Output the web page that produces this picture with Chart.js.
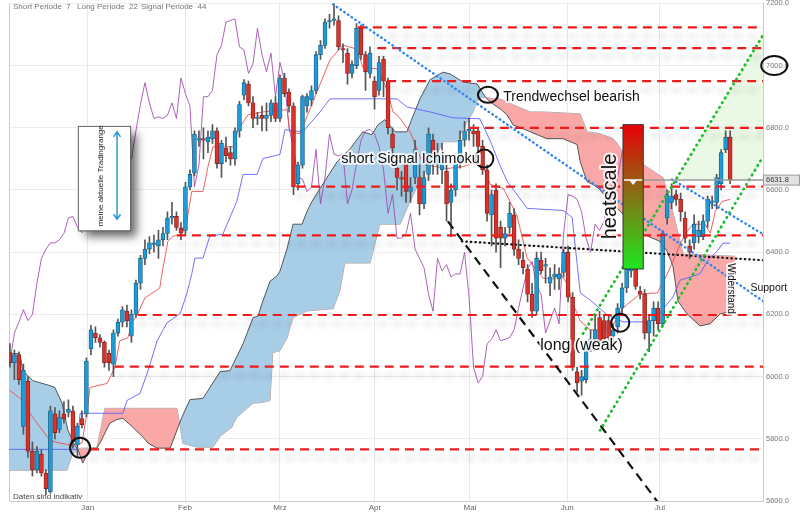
<!DOCTYPE html>
<html>
<head>
<meta charset="utf-8">
<script src="https://cdn.jsdelivr.net/npm/chart.js@4.4.1/dist/chart.umd.min.js"></script>
<style>
  html, body { margin: 0; padding: 0; background: #fff; }
  #wrap { width: 800px; height: 515px; }
</style>
</head>
<body>
<div id="wrap"><canvas id="chart" width="800" height="515"></canvas></div>
<script>
// Ichimoku settings shown in the header
const SHORT_PERIOD = 7;
const LONG_PERIOD = 22;
const SIGNAL_PERIOD = 44;

const monthLabels = ['Jan', 'Feb', 'Mrz', 'Apr', 'Mai', 'Jun', 'Jul'];
const monthPos = [17.3, 38.9, 60, 81.1, 102.2, 123.8, 144.4];

// daily candles, index 0 = mid December
const opens = [
  6077, 6045, 6070, 5840, 5985, 5760, 5700, 5750, 5690, 5630,
  5880, 5830, 5880, 5885, 5890, 5780, 5865, 5880, 6090, 6140,
  6125, 6110, 6075, 6040, 6140, 6175, 6210, 6130, 6200, 6300,
  6380, 6410, 6425, 6420, 6440, 6460, 6510, 6515, 6478, 6470,
  6610, 6655, 6760, 6765, 6755, 6765, 6790, 6685, 6735, 6720,
  6700, 6790, 6905, 6940, 6880, 6830, 6840, 6830, 6840, 6880,
  6830, 6960, 6915, 6870, 6620, 6680, 6870, 6890, 6920, 7035,
  7065, 7140, 7145, 7145, 7055, 7040, 6975, 7000, 7120, 7035,
  6975, 6950, 6920, 7020, 6950, 6780, 6670, 6640, 6690, 6595,
  6640, 6640, 6555, 6650, 6760, 6680, 6665, 6660, 6560, 6600,
  6685, 6760, 6790, 6790, 6790, 6740, 6665, 6520, 6600, 6480,
  6445, 6480, 6520, 6410, 6375, 6345, 6265, 6210, 6375, 6355,
  6300, 6320, 6315, 6335, 6400, 6255, 6015, 5985, 5990, 6100,
  6120, 6190, 6180, 6180, 6130, 6160, 6220, 6285, 6340, 6345,
  6275, 6265, 6140, 6180, 6220, 6170, 6510, 6560, 6585, 6570,
  6510, 6420, 6430, 6450, 6450, 6500, 6560, 6560, 6620, 6730,
  6770
];
const highs = [
  6106, 6085, 6080, 6040, 6000, 5790, 5775, 5765, 5700, 5905,
  5900, 5890, 5920, 5925, 5905, 5850, 5890, 6060, 6165, 6160,
  6135, 6115, 6085, 6150, 6185, 6225, 6230, 6215, 6310, 6390,
  6440, 6450, 6455, 6470, 6480, 6530, 6560, 6530, 6495, 6625,
  6665, 6790, 6790, 6800, 6790, 6810, 6800, 6760, 6770, 6740,
  6800, 6885, 6955, 6950, 6900, 6850, 6870, 6880, 6890, 6900,
  6970, 6975, 6925, 6880, 6690, 6905, 6910, 6935, 7045, 7080,
  7150, 7165, 7200, 7160, 7070, 7055, 7015, 7135, 7130, 7045,
  7060, 6965, 7030, 7030, 6960, 6800, 6690, 6660, 6700, 6640,
  6760, 6680, 6660, 6800, 6780, 6750, 6750, 6680, 6620, 6710,
  6790, 6820, 6830, 6810, 6800, 6760, 6680, 6600, 6620, 6500,
  6480, 6560, 6540, 6440, 6400, 6360, 6300, 6400, 6400, 6380,
  6350, 6360, 6350, 6410, 6420, 6270, 6030, 6020, 6110, 6150,
  6200, 6210, 6200, 6195, 6170, 6235, 6300, 6360, 6410, 6360,
  6290, 6280, 6200, 6240, 6240, 6470, 6600, 6620, 6600, 6590,
  6530, 6440, 6520, 6500, 6520, 6580, 6580, 6650, 6730, 6790,
  6790
];
const lows = [
  6030, 5990, 5975, 5815, 5740, 5680, 5690, 5680, 5620, 5625,
  5800, 5820, 5850, 5870, 5770, 5740, 5835, 5870, 6070, 6110,
  6095, 6030, 6020, 6000, 6130, 6160, 6160, 6110, 6190, 6280,
  6360, 6395, 6400, 6380, 6420, 6440, 6490, 6470, 6440, 6455,
  6600, 6645, 6740, 6700, 6720, 6750, 6670, 6640, 6690, 6680,
  6680, 6770, 6890, 6870, 6800, 6810, 6790, 6790, 6820, 6820,
  6820, 6900, 6850, 6585, 6600, 6670, 6850, 6870, 6910, 7020,
  7055, 7120, 7130, 7050, 7010, 6940, 6960, 6990, 7020, 6920,
  6960, 6860, 6905, 6900, 6780, 6700, 6600, 6580, 6560, 6560,
  6620, 6520, 6540, 6630, 6650, 6650, 6620, 6500, 6450, 6580,
  6670, 6740, 6760, 6740, 6720, 6650, 6500, 6420, 6400, 6350,
  6420, 6460, 6390, 6360, 6330, 6240, 6190, 6200, 6330, 6300,
  6260, 6280, 6280, 6320, 6240, 6020, 5950, 5940, 5980, 6080,
  6100, 6100, 6100, 6110, 6100, 6140, 6200, 6270, 6320, 6280,
  6250, 6120, 6080, 6130, 6150, 6160, 6490, 6540, 6550, 6500,
  6430, 6380, 6410, 6430, 6440, 6480, 6540, 6540, 6600, 6720,
  6620
];
const closes = [
  6045, 6070, 5990, 6020, 5760, 5700, 5760, 5690, 5640, 5890,
  5820, 5870, 5865, 5895, 5790, 5840, 5845, 6050, 6150, 6125,
  6110, 6045, 6045, 6140, 6175, 6215, 6180, 6200, 6300, 6380,
  6410, 6430, 6430, 6440, 6460, 6510, 6515, 6480, 6462, 6610,
  6650, 6780, 6765, 6760, 6770, 6790, 6685, 6750, 6710, 6700,
  6790, 6875, 6945, 6880, 6830, 6835, 6830, 6840, 6880, 6830,
  6960, 6910, 6870, 6610, 6680, 6900, 6900, 6920, 7035, 7065,
  7140, 7145, 7150, 7060, 7050, 6975, 7005, 7120, 7035, 6980,
  7040, 6900, 7010, 6950, 6800, 6735, 6640, 6635, 6595, 6610,
  6730, 6555, 6640, 6780, 6715, 6710, 6715, 6555, 6600, 6685,
  6760, 6790, 6795, 6780, 6740, 6665, 6525, 6585, 6445, 6445,
  6460, 6525, 6410, 6380, 6350, 6265, 6210, 6380, 6340, 6360,
  6320, 6330, 6330, 6400, 6255, 6030, 5980, 6000, 6105, 6120,
  6150, 6115, 6120, 6125, 6150, 6220, 6285, 6345, 6370, 6290,
  6265, 6140, 6180, 6220, 6170, 6460, 6585, 6580, 6570, 6530,
  6445, 6400, 6490, 6470, 6500, 6570, 6565, 6640, 6720, 6770,
  6631.8
];
const lastPrice = closes[closes.length - 1];

// Ichimoku lines: [candle index, value]
const tenkan = [
  [0, 5955], [2.9, 5923], [4.4, 5882], [8.9, 5795], [11.1, 5786], [13.8, 5779], [16, 5786],
  [17.1, 5882], [17.8, 5965], [21.6, 5978], [23.3, 6029], [24.4, 6115], [26.2, 6125],
  [27.3, 6179], [28.4, 6202], [30, 6253], [33.3, 6285], [34, 6349], [35.1, 6435], [36.2, 6451],
  [38.2, 6458], [39.3, 6499], [40.4, 6595], [42.9, 6595], [44, 6675], [45.1, 6739], [49.6, 6739],
  [50.7, 6794], [52.9, 6842], [56.2, 6851], [61.6, 6858], [62.2, 6787], [64.4, 6781],
  [66.7, 6861], [68.2, 6915], [71.1, 7018], [74, 7066], [77.1, 7053], [78.4, 6995], [81.6, 6989],
  [83.8, 6922], [85.1, 6851], [86, 6842], [88.9, 6787], [91.8, 6682], [97.1, 6669],
  [100.7, 6675], [104, 6691], [105.6, 6659], [106.7, 6618], [109.6, 6605], [111.1, 6563],
  [112.7, 6515], [114.9, 6381], [118.4, 6317], [120.7, 6314], [122.2, 6333], [123.8, 6298],
  [125.1, 6234], [126.7, 6179], [128.9, 6150], [133.3, 6150], [136.2, 6221], [140, 6266],
  [143.8, 6269], [145.6, 6317], [147.3, 6371], [148.9, 6426], [150.4, 6467], [151.8, 6490],
  [154.4, 6490], [155.6, 6461], [156.7, 6531], [158.2, 6563], [160, 6570]
];
const kijun = [
  [-0.2, 5766], [14.9, 5766], [15.6, 5882], [25.1, 5882], [26, 5923], [28.9, 5946], [30.7, 6019],
  [32.7, 6115], [34.9, 6173], [37.8, 6202], [39.3, 6266], [40.4, 6330], [41.1, 6381],
  [42.9, 6381], [44.4, 6451], [47.3, 6458], [50.4, 6563], [51.8, 6650], [54.9, 6650],
  [56.2, 6701], [60, 6714], [61.1, 6794], [65.1, 6787], [68.9, 6851], [71.1, 6893], [86, 6893],
  [88.2, 6867], [93.3, 6851], [98.4, 6832], [104.4, 6829], [106.7, 6758], [108.9, 6678],
  [110.4, 6630], [114.9, 6541], [122.9, 6534], [124.9, 6512], [126.7, 6269], [128.9, 6246],
  [132.7, 6198], [136.2, 6176], [142.2, 6176], [144.4, 6205], [147.3, 6256], [148.9, 6310],
  [153.3, 6330], [154.9, 6371], [157.1, 6403], [158.4, 6429], [160, 6429]
];
const senkouA = [
  [-0.2, 6074], [2.2, 6074], [2.9, 6019], [5.1, 5987], [8.9, 5971], [10, 5965], [11.6, 5914],
  [12.9, 5827], [14.4, 5779], [15.1, 5766], [16.2, 5722], [17.8, 5770], [19.3, 5770],
  [20, 5786], [22.2, 5850], [23.8, 5862], [25.1, 5866], [27.3, 5837], [29.6, 5805],
  [30.7, 5786], [32.7, 5770], [35.6, 5770], [37.1, 5827], [38.2, 5869], [40, 5926],
  [42.9, 5930], [46.7, 6016], [48.9, 6019], [51.8, 6106], [54, 6189], [55.1, 6195],
  [56.2, 6243], [57.8, 6307], [59.3, 6323], [60, 6339], [61.6, 6413], [62.9, 6490],
  [64.9, 6490], [66, 6531], [67.1, 6563], [68.9, 6605], [72.7, 6691], [75.6, 6733],
  [78.4, 6787], [80.4, 6778], [81.8, 6810], [83.3, 6826], [85.6, 6787], [88.2, 6787],
  [89.3, 6829], [91.1, 6893], [93.3, 6954], [96.2, 6979], [97.8, 6973], [100.7, 6947],
  [103.8, 6941], [105.6, 6899], [106.7, 6883], [108.9, 6861], [110.4, 6842], [111.8, 6809],
  [114, 6797], [115.6, 6787], [119.3, 6765], [122.9, 6765], [126, 6746], [126.7, 6691],
  [128.2, 6627], [130.4, 6611], [132.7, 6573], [135.6, 6531], [140.7, 6458], [144.4, 6435],
  [146, 6403], [147.3, 6355], [148.4, 6243], [150.4, 6202], [153.3, 6163], [155.6, 6170],
  [157.8, 6202], [161.1, 6211]
];
const senkouB = [
  [-0.2, 5699], [12.7, 5699], [13.8, 5747], [15.1, 5766], [15.6, 5770], [19.3, 5770],
  [21.1, 5898], [37.1, 5898], [37.8, 5843], [38.4, 5785], [41.6, 5773], [45.1, 5773],
  [46.7, 5808], [49.3, 5837], [50.4, 5869], [52.7, 5898], [54, 5914], [56, 5917],
  [57.8, 5923], [58.4, 6077], [60, 6083], [61.6, 6125], [62.2, 6157], [62.9, 6189],
  [66, 6211], [71.8, 6218], [73.3, 6275], [74.4, 6365], [80, 6365], [82.2, 6490],
  [86.7, 6490], [88.9, 6563], [91.8, 6650], [94.4, 6701], [96.2, 6755], [99.3, 6755],
  [100.7, 6797], [102.9, 6851], [104, 6893], [105.6, 6899], [107.3, 6893], [108.9, 6893],
  [111.8, 6874], [115.6, 6851], [118.4, 6851], [126.7, 6845], [128.2, 6787], [131.1, 6781],
  [134, 6765], [135.1, 6746], [136, 6723], [140.7, 6682], [145.1, 6640], [146.7, 6563],
  [149.6, 6394], [161.1, 6387]
];

// horizontal support / resistance levels and the candle where each one starts
const levels = [7123, 7056, 6950, 6800, 6611, 6454, 6198, 6032, 5766];
const levelStarts = [77.3, 81.6, 83.8, 102.2, 63.6, 37.1, 28.4, 23.3, 17.8];

// drawn trend lines: [x0, value0, x1, value1]
const trendLines = {
  blueLong: [71.8, 7197, 167.3, 6243],
  blueShort: [147.1, 6634, 167.3, 6458],
  green1: [127.3, 6138, 167.3, 7098],
  green2: [131.1, 5827, 167.3, 6707],
  blackDash: [97.3, 6499, 144.4, 5587],
  blackDot: [100.4, 6435, 167.3, 6374]
};

const X_MIN = -0.2;
const X_MAX = 167.3;
const FONT = "'Liberation Sans', Arial, sans-serif";

const pts = arr => arr.map(([x, y]) => ({ x, y }));
const seg = l => [{ x: l[0], y: l[1] }, { x: l[2], y: l[3] }];

const UP = '#1e9bd7', UP_EDGE = '#1a5f86';
const DOWN = '#d9322b', DOWN_EDGE = '#8a1f1a';

const lineBase = { type: 'line', pointRadius: 0, tension: 0, fill: false };

const datasets = [
  { ...lineBase, label: 'Senkou A', data: pts(senkouA), borderColor: 'rgba(70,70,70,0.9)', borderWidth: 1,
    fill: { target: 1, above: 'rgba(160,201,229,0.92)', below: 'rgba(249,160,160,0.92)' }, order: 10 },
  { ...lineBase, label: 'Senkou B', data: pts(senkouB), borderColor: 'rgba(150,150,150,0.8)', borderWidth: 1, order: 11 },
  { ...lineBase, label: 'Chikou', data: closes.map((c, i) => ({ x: i - LONG_PERIOD, y: c })),
    borderColor: 'rgba(160,70,175,0.85)', borderWidth: 1, order: 8 },
  { ...lineBase, label: 'Kijun', data: pts(kijun), borderColor: 'rgba(90,90,250,0.85)', borderWidth: 1, order: 7 },
  { ...lineBase, label: 'Tenkan', data: pts(tenkan), borderColor: 'rgba(240,70,70,0.85)', borderWidth: 1, order: 7 },
  { type: 'bar', label: 'wick', data: highs.map((h, i) => ({ x: i, y: [lows[i], h] })),
    backgroundColor: '#555', barThickness: 1, grouped: false, order: 6 },
  { type: 'bar', label: 'body', data: closes.map((c, i) => ({ x: i, y: [opens[i], c] })),
    backgroundColor: ctx => closes[ctx.dataIndex] >= opens[ctx.dataIndex] ? UP : DOWN,
    borderColor: ctx => closes[ctx.dataIndex] >= opens[ctx.dataIndex] ? UP_EDGE : DOWN_EDGE,
    borderWidth: 0.8, borderSkipped: false, barThickness: 4, grouped: false, order: 5 },
  ...levels.map((v, k) => ({ ...lineBase, label: 'level', data: [{ x: levelStarts[k], y: v }, { x: X_MAX, y: v }],
    borderColor: '#ee1b1b', borderWidth: 2.2, borderDash: [9, 6], shadowed: true, order: 2 })),
  { ...lineBase, label: 'trend', data: seg(trendLines.blueLong), borderColor: '#2f86ea', borderWidth: 2.4,
    borderDash: [0.5, 4], borderCapStyle: 'round', order: 1 },
  { ...lineBase, label: 'trend', data: seg(trendLines.blueShort), borderColor: '#2f86ea', borderWidth: 2.4,
    borderDash: [0.5, 4], borderCapStyle: 'round', order: 1 },
  { ...lineBase, label: 'trend', data: seg(trendLines.green1), borderColor: '#1fbf2f', borderWidth: 2.8,
    borderDash: [0.5, 5], borderCapStyle: 'round', order: 1 },
  { ...lineBase, label: 'trend', data: seg(trendLines.green2), borderColor: '#1fbf2f', borderWidth: 2.8,
    borderDash: [0.5, 5], borderCapStyle: 'round', order: 1 },
  { ...lineBase, label: 'trend', data: seg(trendLines.blackDash), borderColor: '#111', borderWidth: 2.2,
    borderDash: [9, 6], order: 1 },
  { ...lineBase, label: 'trend', data: seg(trendLines.blackDot), borderColor: '#111', borderWidth: 2.2,
    borderDash: [0.5, 4], borderCapStyle: 'round', order: 1 }
];

// annotations
const heat = { x0: 136.2, x1: 140.7, top: 6810, bottom: 6346 };
const rangeBox = { x0: 15.1, x1: 26.7, top: 6806, bottom: 6470, arrowX: 23.8, arrowTop: 6787,
  arrowBottom: 6506, textX: 20.2, textBottom: 6483 };
const circles = [[15.6, 5771, 10, 10], [106.2, 6906, 10, 8], [105.4, 6701, 9, 9], [135.6, 6173, 9, 9]];
const notes = [
  ['Trendwechsel bearish', 109.6, 6897, 14, 0, 'left'],
  ['short Signal Ichimoku', 73.6, 6701, 14.5, 0, 'left'],
  ['long (weak)', 117.8, 6099, 16, 0, 'left'],
  ['heatscale', 133.4, 6579, 20, -90, 'center'],
  ['Widerstand', 160.2, 6283, 10, 90, 'center'],
  ['Support', 164.5, 6285, 10.5, 0, 'left']
];

function drawNote(ctx, str, px, py, size, rot, align) {
  ctx.save();
  ctx.translate(px, py);
  if (rot) ctx.rotate(rot * Math.PI / 180);
  ctx.font = size + 'px ' + FONT;
  ctx.textAlign = align;
  ctx.textBaseline = 'middle';
  ctx.lineJoin = 'round';
  ctx.strokeStyle = 'rgba(255,255,255,0.8)';
  ctx.lineWidth = 4;
  ctx.strokeText(str, 0, 0);
  ctx.fillStyle = '#111';
  ctx.fillText(str, 0, 0);
  ctx.restore();
}

const xAt = (l, v) => l[0] + (v - l[1]) * (l[2] - l[0]) / (l[3] - l[1]);

const shadowPlugin = {
  id: 'shadow',
  beforeDatasetDraw(chart, args) {
    if (!chart.data.datasets[args.index].shadowed) return;
    const ctx = chart.ctx;
    ctx.save();
    ctx.shadowColor = 'rgba(0,0,0,0.2)';
    ctx.shadowBlur = 6;
    ctx.shadowOffsetY = 9;
  },
  afterDatasetDraw(chart, args) {
    if (chart.data.datasets[args.index].shadowed) chart.ctx.restore();
  }
};

const overlay = {
  id: 'overlay',
  beforeDraw(chart) {
    const ctx = chart.ctx;
    ctx.save();
    ctx.fillStyle = '#fff';
    ctx.fillRect(0, 0, chart.width, chart.height);
    ctx.restore();
  },
  beforeDatasetsDraw(chart) {
    const { ctx, chartArea: a, scales } = chart;
    const X = v => scales.x.getPixelForValue(v), Y = v => scales.y.getPixelForValue(v);
    ctx.save();
    ctx.beginPath(); ctx.rect(a.left, a.top, a.width, a.height); ctx.clip();
    const g1 = trendLines.green1, g2 = trendLines.green2;
    ctx.fillStyle = 'rgba(220,243,212,0.6)';
    ctx.beginPath();
    ctx.moveTo(X(xAt(g1, lastPrice)), Y(lastPrice));
    ctx.lineTo(X(g1[2]), Y(g1[3]));
    ctx.lineTo(X(g2[2]), Y(g2[3]));
    ctx.lineTo(X(xAt(g2, lastPrice)), Y(lastPrice));
    ctx.closePath(); ctx.fill();
    ctx.strokeStyle = '#ccc'; ctx.lineWidth = 1;
    ctx.beginPath(); ctx.moveTo(a.left + 0.5, a.top); ctx.lineTo(a.left + 0.5, a.bottom); ctx.stroke();
    ctx.restore();
  },
  afterDatasetsDraw(chart) {
    const { ctx, chartArea: a, scales } = chart;
    const X = v => scales.x.getPixelForValue(v), Y = v => scales.y.getPixelForValue(v);
    ctx.save();
    ctx.beginPath(); ctx.rect(a.left, a.top, a.width, a.height); ctx.clip();

    // last price line
    const py = Y(lastPrice);
    ctx.strokeStyle = '#999'; ctx.lineWidth = 1.5;
    ctx.beginPath(); ctx.moveTo(X(heat.x1), py); ctx.lineTo(a.right, py); ctx.stroke();

    // heatscale bar
    const hx0 = X(heat.x0), hx1 = X(heat.x1), hy0 = Y(heat.top), hy1 = Y(heat.bottom);
    const grad = ctx.createLinearGradient(0, hy0, 0, hy1);
    grad.addColorStop(0, '#e8000a');
    grad.addColorStop(1, '#1ee81e');
    ctx.fillStyle = grad;
    ctx.fillRect(hx0, hy0, hx1 - hx0, hy1 - hy0);
    ctx.strokeStyle = '#333'; ctx.lineWidth = 1;
    ctx.strokeRect(hx0, hy0, hx1 - hx0, hy1 - hy0);
    ctx.strokeStyle = '#fff'; ctx.lineWidth = 1.5;
    ctx.beginPath(); ctx.moveTo(hx0 + 1, py); ctx.lineTo(hx1 - 1, py); ctx.stroke();
    const hc = (hx0 + hx1) / 2;
    ctx.fillStyle = '#fff';
    ctx.beginPath(); ctx.moveTo(hc - 4, py); ctx.lineTo(hc + 4, py); ctx.lineTo(hc, py + 5); ctx.closePath(); ctx.fill();

    // trading range box
    const bx0 = X(rangeBox.x0), bx1 = X(rangeBox.x1), by0 = Y(rangeBox.top), by1 = Y(rangeBox.bottom);
    ctx.save();
    ctx.shadowColor = 'rgba(0,0,0,0.6)'; ctx.shadowBlur = 9; ctx.shadowOffsetX = 7; ctx.shadowOffsetY = 7;
    ctx.fillStyle = '#fff';
    ctx.fillRect(bx0, by0, bx1 - bx0, by1 - by0);
    ctx.restore();
    ctx.strokeStyle = '#666'; ctx.lineWidth = 1;
    ctx.strokeRect(bx0 + 0.5, by0 + 0.5, bx1 - bx0, by1 - by0);
    const ax = X(rangeBox.arrowX), ay0 = Y(rangeBox.arrowTop), ay1 = Y(rangeBox.arrowBottom);
    ctx.strokeStyle = '#2a9ad6'; ctx.lineWidth = 1.5;
    ctx.beginPath();
    ctx.moveTo(ax, ay0); ctx.lineTo(ax, ay1);
    ctx.moveTo(ax - 3.5, ay0 + 5); ctx.lineTo(ax, ay0); ctx.lineTo(ax + 3.5, ay0 + 5);
    ctx.moveTo(ax - 3.5, ay1 - 5); ctx.lineTo(ax, ay1); ctx.lineTo(ax + 3.5, ay1 - 5);
    ctx.stroke();
    ctx.save();
    ctx.translate(X(rangeBox.textX), Y(rangeBox.textBottom));
    ctx.rotate(-Math.PI / 2);
    ctx.font = '8px ' + FONT; ctx.fillStyle = '#222'; ctx.textAlign = 'left'; ctx.textBaseline = 'middle';
    ctx.fillText('meine aktuelle Tradingrange', 0, 0);
    ctx.restore();

    // circles
    ctx.strokeStyle = '#111'; ctx.lineWidth = 2;
    circles.forEach(([cx, cy, rx, ry]) => {
      ctx.beginPath(); ctx.ellipse(X(cx), Y(cy), rx, ry, 0, 0, Math.PI * 2); ctx.stroke();
    });
    ctx.restore();

    // notes may run past the plot edge
    notes.forEach(([s, nx, ny, size, rot, align]) => drawNote(ctx, s, X(nx), Y(ny), size, rot, align));

    // header and footnote
    ctx.save();
    ctx.font = '8px ' + FONT; ctx.fillStyle = '#777'; ctx.textBaseline = 'middle'; ctx.textAlign = 'left';
    ctx.fillText('Short Periode  ' + SHORT_PERIOD, 13, 7);
    ctx.fillText('Long Periode  ' + LONG_PERIOD, 77, 7);
    ctx.fillText('Signal Periode  ' + SIGNAL_PERIOD, 141, 7);
    ctx.fillStyle = '#444';
    ctx.fillText('Daten sind indikativ', 13, 497);

    // last price tag on the axis
    ctx.fillStyle = '#e2e2e2'; ctx.strokeStyle = '#9a9a9a'; ctx.lineWidth = 1;
    ctx.fillRect(a.right, py - 5, 37, 10); ctx.strokeRect(a.right + 0.5, py - 5, 36, 10);
    ctx.fillStyle = '#333'; ctx.font = '7.5px ' + FONT;
    ctx.fillText(lastPrice.toFixed(1), a.right + 3, py);

    // circled 7000 label
    ctx.strokeStyle = '#111'; ctx.lineWidth = 2;
    ctx.beginPath(); ctx.ellipse(X(169.8), Y(7000), 13, 9.5, 0, 0, Math.PI * 2); ctx.stroke();
    ctx.restore();
  }
};

Chart.defaults.font.family = FONT;

new Chart(document.getElementById('chart'), {
  type: 'line',
  data: { datasets },
  plugins: [shadowPlugin, overlay],
  options: {
    responsive: false,
    animation: false,
    events: [],
    layout: { padding: { left: 9, top: 1, right: 0, bottom: 0 } },
    plugins: { legend: { display: false }, tooltip: { enabled: false } },
    scales: {
      x: {
        type: 'linear',
        min: X_MIN,
        max: X_MAX,
        offset: false,
        afterBuildTicks: scale => { scale.ticks = monthPos.map(v => ({ value: v })); },
        afterFit: scale => { scale.height = 14; },
        grid: { color: '#e8e8e8', drawTicks: false, offset: false },
        border: { color: '#ccc' },
        ticks: {
          autoSkip: false, maxRotation: 0, padding: 2, color: '#666', font: { size: 8 },
          callback: (v, i) => monthLabels[i]
        }
      },
      y: {
        position: 'right',
        min: 5600,
        max: 7200,
        afterFit: scale => { scale.width = 37; },
        grid: { color: '#ececec', drawTicks: false },
        border: { color: '#ccc' },
        ticks: {
          stepSize: 200, padding: 3, color: '#777', font: { size: 7.5, lineHeight: 0.1 },
          callback: v => v.toFixed(1)
        }
      }
    }
  }
});
</script>
</body>
</html>
